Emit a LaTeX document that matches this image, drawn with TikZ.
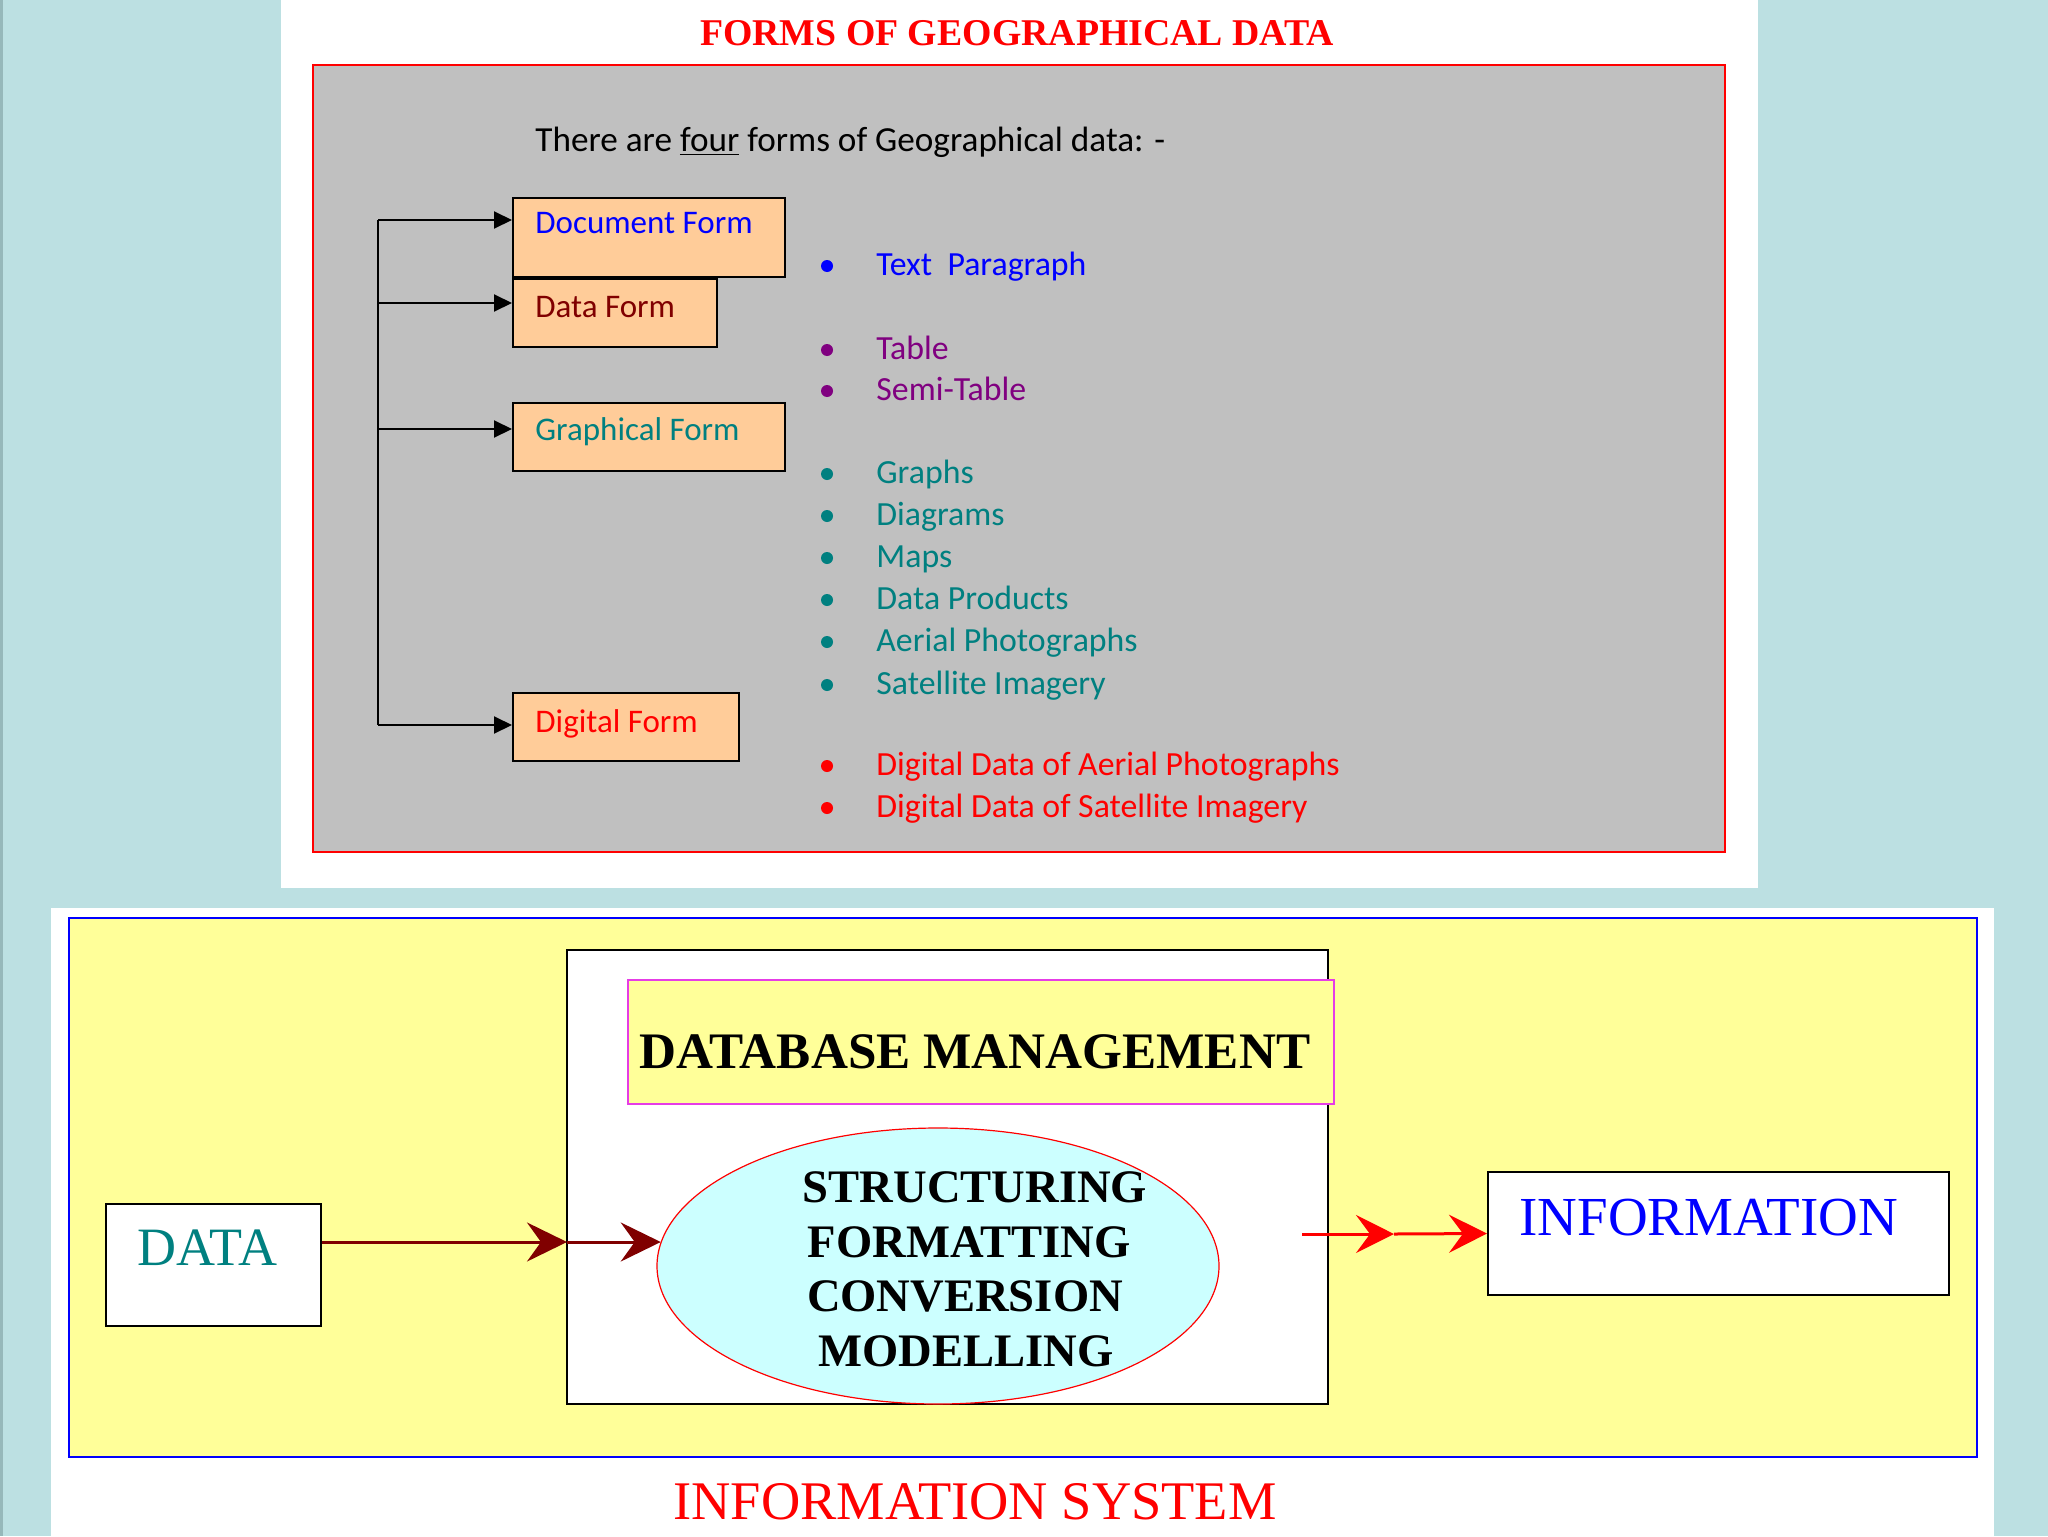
\documentclass[tikz,border=0pt]{standalone}
\usepackage{fontspec}
\setmainfont{Liberation Serif}
\newfontfamily\calfont{Carlito}
\usetikzlibrary{arrows.meta,shapes.geometric}
\definecolor{bgblue}{RGB}{188,224,226}
\definecolor{bgedge}{RGB}{150,184,186}
\definecolor{panelgray}{RGB}{192,192,192}
\definecolor{peach}{RGB}{255,204,153}
\definecolor{softyellow}{RGB}{255,255,153}
\definecolor{softcyan}{RGB}{204,255,255}
\definecolor{magborder}{RGB}{230,60,230}
\definecolor{tealc}{RGB}{0,128,128}
\definecolor{purplec}{RGB}{128,0,128}
\definecolor{darkredc}{RGB}{128,0,0}
\definecolor{bluec}{RGB}{0,0,255}
\definecolor{redc}{RGB}{255,0,0}
\tikzset{
  formbox/.style={draw=black, line width=1pt, fill=peach, rectangle, inner sep=0pt},
  formtext/.style={anchor=base west, inner sep=0pt, font=\calfont\fontsize{16.5pt}{20pt}\selectfont},
  itemtext/.style={anchor=base west, inner sep=0pt, font=\calfont\fontsize{16.9pt}{20pt}\selectfont},
  dot/.style={circle, fill, inner sep=0pt, minimum size=6pt},
  barr/.style={draw=black, line width=1pt, -{Triangle[length=9pt,width=8.5pt]}},
  darr/.style={draw=darkredc, line width=1.5pt, -{Stealth[length=20pt,width=19.5pt,inset=7pt]}},
  rarr/.style={draw=redc, line width=1.5pt, -{Stealth[length=19pt,width=19pt,inset=7pt]}},
  whitebox/.style={draw=black, line width=1pt, fill=white, rectangle, inner sep=0pt},
  serifbig/.style={anchor=base west, inner sep=0pt},
  proctext/.style={anchor=base, inner sep=0pt, font=\bfseries\fontsize{23.3pt}{27pt}\selectfont},
}
\begin{document}
\begin{tikzpicture}[x=0.5pt,y=-0.5pt]
\useasboundingbox (0,0) rectangle (2048,1536);
% background
\fill[bgblue] (0,0) rectangle (2048,1536);
\fill[bgedge] (0,0) rectangle (3,1536);
% top panel
\fill[white] (281,0) rectangle (1758,888);
\node[anchor=base, inner sep=0pt, text=redc, font=\bfseries\fontsize{18.9pt}{22pt}\selectfont] (title) at (1017,46) {FORMS OF GEOGRAPHICAL DATA};
\filldraw[fill=panelgray, draw=redc, line width=0.75pt] (313,65) rectangle (1725,852);
\node[formtext, font=\calfont\fontsize{17.6pt}{20pt}\selectfont] (intro) at (535,151) {There are \underline{four} forms of Geographical data: -};

% form boxes
\node[formbox, minimum width=136pt, minimum height=39.5pt] (doc) at (649,237.5) {};
\node[formbox, minimum width=102pt, minimum height=34pt] (dat) at (615,313) {};
\node[formbox, minimum width=136pt, minimum height=34pt] (gra) at (649,437) {};
\node[formbox, minimum width=113pt, minimum height=34pt] (dig) at (626,727) {};
\node[formtext, text=bluec] (doct) at (535,233) {Document Form};
\node[formtext, text=darkredc] (datt) at (535,317) {Data Form};
\node[formtext, text=tealc] (grat) at (535,440) {Graphical Form};
\node[formtext, text=redc] (digt) at (535,732) {Digital Form};

% trunk and arrows
\coordinate (t1) at (378,220);
\coordinate (t2) at (378,303);
\coordinate (t3) at (378,429);
\coordinate (t4) at (378,725);
\draw[black, line width=1pt] (t1) -- (t4);
\draw[barr] (t1) -- (t1 -| doc.west);
\draw[barr] (t2) -- (t2 -| dat.west);
\draw[barr] (t3) -- (t3 -| gra.west);
\draw[barr] (t4) -- (t4 -| dig.west);

% bullet list
\node[dot, fill=bluec] (b1) at (827,266) {};
\node[itemtext, text=bluec] (i1) at (876,275) {Text\ \ Paragraph};
\node[dot, fill=purplec] (b2) at (827,350) {};
\node[itemtext, text=purplec] (i2) at (876,359) {Table};
\node[dot, fill=purplec] (b3) at (827,391) {};
\node[itemtext, text=purplec] (i3) at (876,400) {Semi-Table};
\node[dot, fill=tealc] (b4) at (827,474) {};
\node[itemtext, text=tealc] (i4) at (876,483) {Graphs};
\node[dot, fill=tealc] (b5) at (827,516) {};
\node[itemtext, text=tealc] (i5) at (876,525) {Diagrams};
\node[dot, fill=tealc] (b6) at (827,558) {};
\node[itemtext, text=tealc] (i6) at (876,567) {Maps};
\node[dot, fill=tealc] (b7) at (827,600) {};
\node[itemtext, text=tealc] (i7) at (876,609) {Data Products};
\node[dot, fill=tealc] (b8) at (827,642) {};
\node[itemtext, text=tealc] (i8) at (876,651) {Aerial Photographs};
\node[dot, fill=tealc] (b9) at (827,685) {};
\node[itemtext, text=tealc] (i9) at (876,694) {Satellite Imagery};
\node[dot, fill=redc] (b10) at (827,766) {};
\node[itemtext, text=redc] (i10) at (876,775) {Digital Data of Aerial Photographs};
\node[dot, fill=redc] (b11) at (827,808) {};
\node[itemtext, text=redc] (i11) at (876,817) {Digital Data of Satellite Imagery};

% bottom panel
\fill[white] (51,908) rectangle (1994,1536);
\filldraw[fill=softyellow, draw=bluec, line width=1pt] (69,918) rectangle (1977,1457);

\node[whitebox, minimum width=107.5pt, minimum height=61pt] (data) at (213.5,1265) {};
\node[serifbig, text=tealc, font=\fontsize{27pt}{30pt}\selectfont] (datat) at (137,1265) {DATA};

\node[whitebox, minimum width=380.5pt, minimum height=227pt] (outer) at (947.5,1177) {};
\node[draw=magborder, line width=1pt, fill=softyellow, rectangle, inner sep=0pt, minimum width=353pt, minimum height=62pt] (dbm) at (981,1042) {};
\node[serifbig, text=black, font=\bfseries\fontsize{25.6pt}{30pt}\selectfont] (dbmt) at (639,1068) {DATABASE MANAGEMENT};

\node[ellipse, draw=redc, line width=0.6pt, fill=softcyan, inner sep=0pt, minimum width=281pt, minimum height=138pt] (proc) at (938,1266) {};
\node[proctext] (p1) at (975,1202) {STRUCTURING};
\node[proctext] (p2) at (969,1257) {FORMATTING};
\node[proctext] (p3) at (965,1311) {CONVERSION};
\node[proctext] (p4) at (966,1366) {MODELLING};

\node[whitebox, minimum width=230.5pt, minimum height=61.5pt] (info) at (1718.5,1233.5) {};
\node[serifbig, text=bluec, font=\fontsize{27.5pt}{30pt}\selectfont] (infot) at (1519,1235) {INFORMATION};

% connectors
\coordinate (inA) at (567,1242);
\draw[darr] (data.east |- inA) -- (inA);
\draw[darr] (inA) -- (inA -| proc.175);
\coordinate (outA) at (1302,1234);
\coordinate (outB) at (1394,1234);
\draw[rarr] (outA) -- (outB);
\draw[rarr] (outB) -- (info.west);

\node[anchor=base, inner sep=0pt, text=redc, font=\fontsize{27.2pt}{30pt}\selectfont] (istitle) at (975,1519) {INFORMATION SYSTEM};
\end{tikzpicture}
\end{document}
